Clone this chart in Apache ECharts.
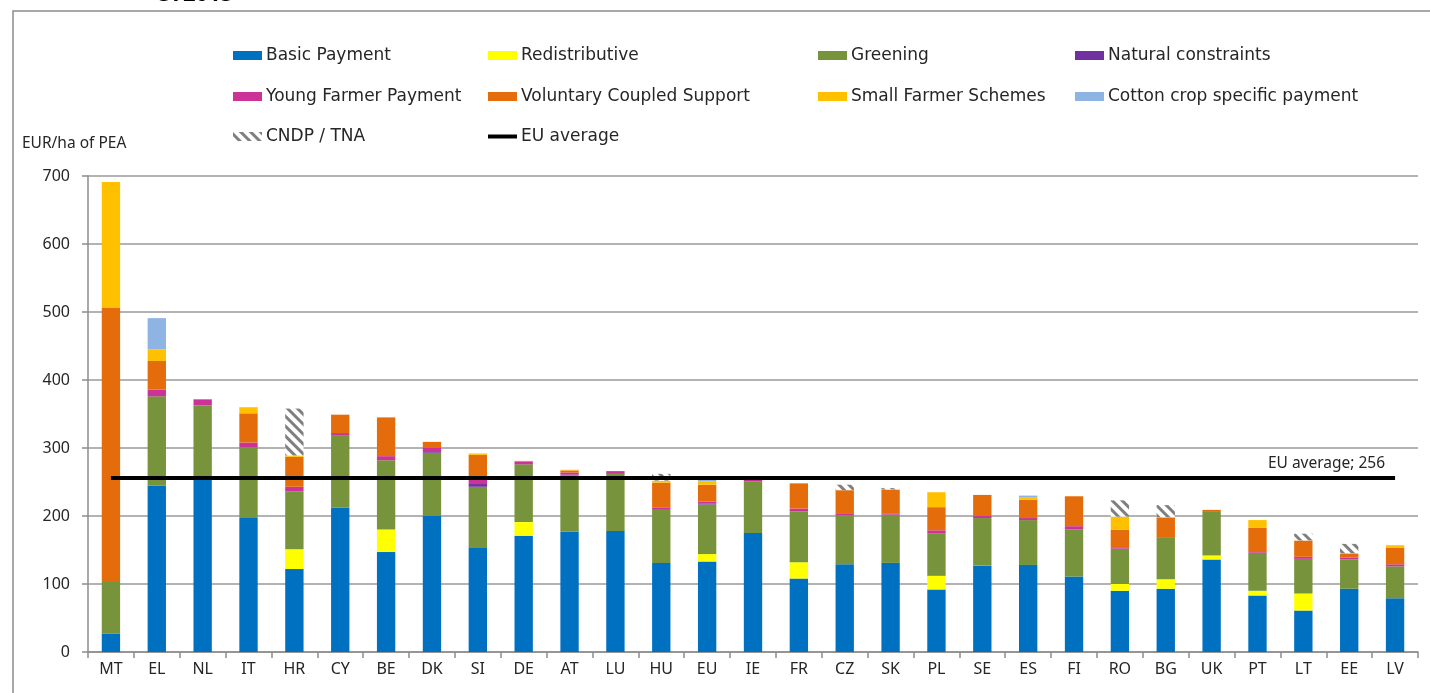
<!DOCTYPE html>
<html>
<head>
<meta charset="utf-8">
<script src="https://cdn.jsdelivr.net/npm/echarts@6/dist/echarts.min.js"></script>
<style>
  html, body { margin: 0; padding: 0; background: #fff; }
  #chart { width: 1430px; height: 693px; }
</style>
</head>
<body>
<div id="chart"></div>
<script>
// Direct payments per hectare of potentially eligible area, by member state (EUR/ha)
const categories = ['MT','EL','NL','IT','HR','CY','BE','DK','SI','DE','AT','LU','HU','EU','IE','FR','CZ','SK','PL','SE','ES','FI','RO','BG','UK','PT','LT','EE','LV'];

const basicPayment   = [27,245,253,197,122,212,147,200,154,171,177,178,131,133,175,108,129,131,92,127,128,111,90,93,136,83,61,93,79];
const redistributive = [0,0,0,0,29,0,33,0,0,20,0,0,0,11,0,24,0,0,20,0,0,0,10,14,6,7,25,0,0];
const greening       = [76,131,110,104,85,106,102,93,89,85,83,84,78,73,76,75,72,71,62,70,66,69,52,61,64,56,51,43,47];
const naturalConstr  = [0,0,0,0,0,0,0,1,4,0,1,1,0,1,0,0,0,0,0,0,0,0,0,0,0,0,0,0,0];
const youngFarmer    = [0,10,8,7,7,4,6,6,8,4,3,3,3,3,3,4,2,2,5,3,3,5,1,1,0,1,3,3,3];
const coupledSupport = [403,42,1,43,44,27,57,9,35,1,3,0,37,25,0,37,35,35,34,31,27,44,27,29,3,36,24,6,24];
const smallFarmer    = [185,17,0,9,2,0,0,0,2,0,1,0,3,5,0,0,0,0,22,0,3,0,19,0,0,11,0,0,4];
const cottonPayment  = [0,46,0,0,0,0,0,0,0,0,0,0,0,2,0,0,0,0,0,0,3,0,0,0,0,0,0,0,0];
const cndpTna        = [0,0,0,0,69,0,0,0,0,0,0,0,10,3,0,0,8,2,0,0,0,0,24,18,0,0,10,14,0];

const euAverage = 256;
const yTicks = { min: 0, max: 700, interval: 100 };

const FONT = '"Noto Sans", "DejaVu Sans", sans-serif';
const LEGEND_FONT = '"DejaVu Sans", "Noto Sans", sans-serif';
const TEXT = '#262626';

// diagonal hatching for the CNDP / TNA top-ups
const hatch = {
  symbol: 'rect',
  dashArrayX: [1, 0],
  dashArrayY: [3, 4],
  rotation: Math.PI / 4,
  color: '#7f7f7f',
  symbolSize: 1
};

const barSeries = [
  { name: 'Basic Payment', data: basicPayment, color: '#0070C0' },
  { name: 'Redistributive', data: redistributive, color: '#FFFF00' },
  { name: 'Greening', data: greening, color: '#77933C' },
  { name: 'Natural constraints', data: naturalConstr, color: '#7030A0' },
  { name: 'Young Farmer Payment', data: youngFarmer, color: '#CC3399' },
  { name: 'Voluntary Coupled Support', data: coupledSupport, color: '#E46C0A' },
  { name: 'Small Farmer Schemes', data: smallFarmer, color: '#FFC000' },
  { name: 'Cotton crop specific payment', data: cottonPayment, color: '#8EB4E3' },
  { name: 'CNDP / TNA', data: cndpTna, color: '#ffffff', decal: hatch }
].map(s => ({
  name: s.name,
  type: 'bar',
  stack: 'total',
  barWidth: '40%',
  data: s.data,
  itemStyle: Object.assign({ color: s.color }, s.decal ? { decal: s.decal } : {}),
  emphasis: { disabled: true }
}));

// Legend laid out as a 4-column grid, one legend component per entry
const colX = [233, 488, 818, 1075];
const rowY = [47, 88, 128];
const legendNames = [
  'Basic Payment', 'Redistributive', 'Greening', 'Natural constraints',
  'Young Farmer Payment', 'Voluntary Coupled Support', 'Small Farmer Schemes', 'Cotton crop specific payment',
  'CNDP / TNA', 'EU average'
];
const legends = legendNames.map((n, i) => ({
  data: [n],
  left: colX[i % 4],
  top: rowY[Math.floor(i / 4)],
  padding: 0,
  itemWidth: 29,
  itemHeight: n === 'EU average' ? 4 : 9,
  icon: 'rect',
  selectedMode: false,
  textStyle: { fontFamily: LEGEND_FONT, fontSize: 17, color: TEXT, padding: [0, 0, 0, -1] }
}));

const option = {
  animation: false,
  backgroundColor: '#fff',
  legend: legends,
  grid: { left: 88, right: 12, top: 176, bottom: 41 },
  xAxis: {
    type: 'category',
    data: categories,
    axisLine: { lineStyle: { color: '#8c8c8c', width: 1.5 } },
    axisTick: { show: true, length: 6, lineStyle: { color: '#8c8c8c', width: 1.5 } },
    axisLabel: { fontFamily: FONT, fontSize: 16, color: TEXT, margin: 9 }
  },
  yAxis: {
    type: 'value',
    min: yTicks.min,
    max: yTicks.max,
    interval: yTicks.interval,
    axisLine: { show: true, lineStyle: { color: '#8c8c8c', width: 1.5 } },
    axisTick: { show: true, length: 6, lineStyle: { color: '#8c8c8c', width: 1.5 } },
    splitLine: { lineStyle: { color: '#9a9a9a', width: 1.5 } },
    axisLabel: { fontFamily: FONT, fontSize: 16, color: TEXT, margin: 18 }
  },
  series: barSeries.concat([{
    name: 'EU average',
    type: 'line',
    data: [],
    color: '#000',
    lineStyle: { color: '#000', width: 4 },
    itemStyle: { color: '#000' },
    markLine: {
      silent: true,
      symbol: 'none',
      lineStyle: { color: '#000', width: 4, type: 'solid' },
      label: {
        show: true,
        position: 'insideEndTop',
        formatter: 'EU average; ' + euAverage,
        fontFamily: FONT, fontSize: 15.5, color: TEXT, distance: [10, 6]
      },
      data: [[
        { coord: [categories[0], euAverage] },
        { coord: [categories[categories.length - 1], euAverage] }
      ]]
    },
    z: 10
  }]),
  graphic: [
    { type: 'rect', shape: { x: 13, y: 11, width: 1600, height: 900 },
      style: { fill: 'none', stroke: '#8c8c8c', lineWidth: 1.5 }, silent: true },
    { type: 'text', left: 22, top: 136,
      style: { text: 'EUR/ha of PEA', fontFamily: FONT, fontSize: 15.5, fill: TEXT } },
    { type: 'text', x: 155, y: -16,
      style: { text: 'CY2015', fontFamily: FONT, fontSize: 22, fontWeight: 'bold', fill: '#000' } }
  ]
};

const chart = echarts.init(document.getElementById('chart'), null, { renderer: 'canvas' });
chart.setOption(option);
</script>
</body>
</html>
